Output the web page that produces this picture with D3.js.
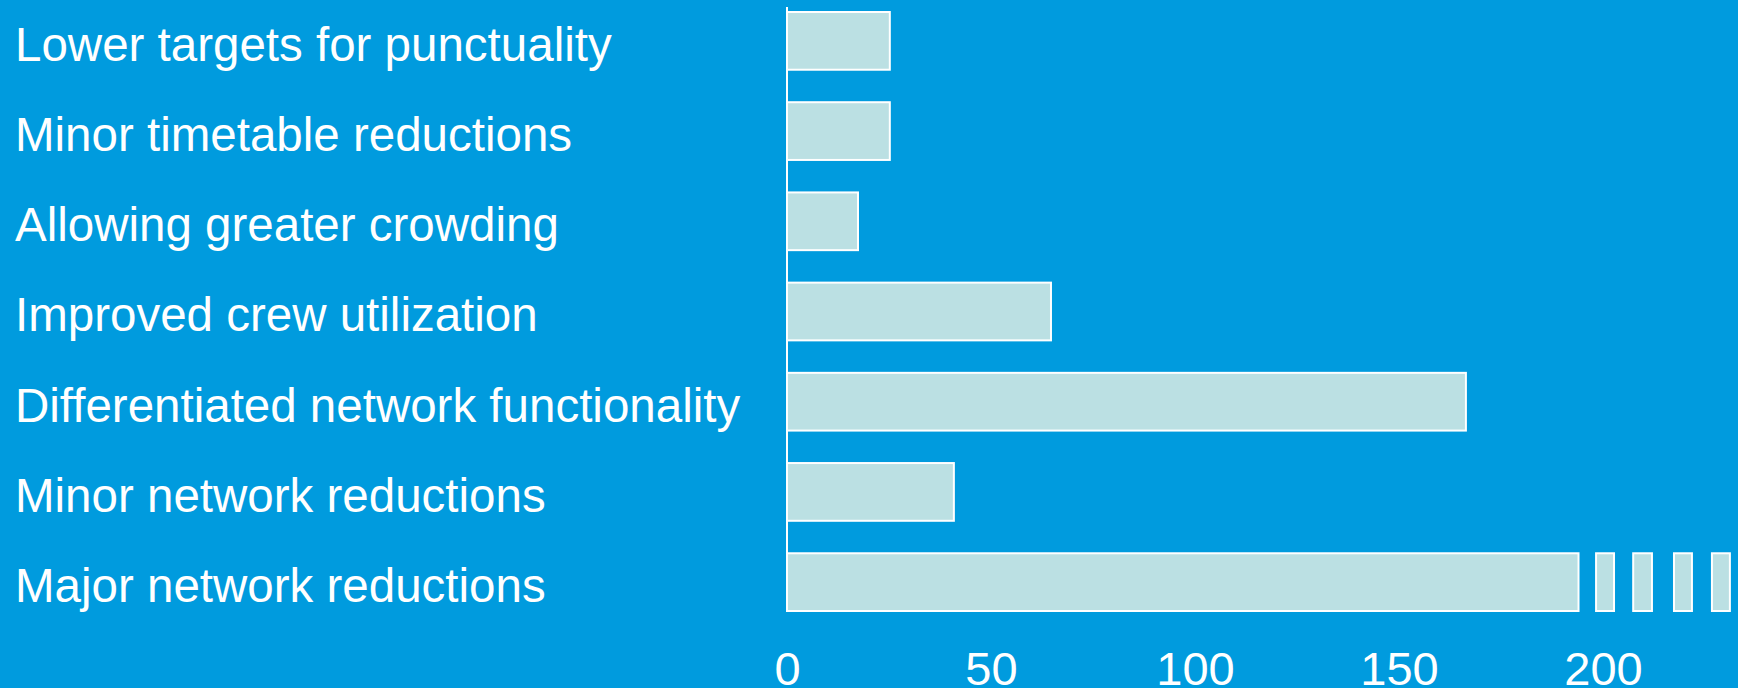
<!DOCTYPE html>
<html>
<head>
<meta charset="utf-8">
<script src="https://cdn.jsdelivr.net/npm/d3@7"></script>
<style>
  body { margin: 0; background: #009bde; }
  svg { display: block; }
  .label { fill: #fff; font-family: "Liberation Sans", Arial, sans-serif; font-size: 47.5px; }
  .tick text { fill: #fff; font-family: "Liberation Sans", Arial, sans-serif; font-size: 47px; }
</style>
</head>
<body>
<svg id="chart"></svg>
<script>
// categories, top to bottom
var categories = [
    "Lower targets for punctuality",
    "Minor timetable reductions",
    "Allowing greater crowding",
    "Improved crew utilization",
    "Differentiated network functionality",
    "Minor network reductions",
    "Major network reductions"
];
// bar lengths as drawn (last one is cut off and continues as a broken bar)
var values = [25.2, 25.2, 17.4, 64.7, 166.4, 40.9, 194];
// pieces of the broken bar after the cut, in axis units
var breakStarts = [198.3, 207.4, 217.4, 226.7];
var breakEnds = [202.7, 212, 221.8, 231.1];
var tickValues = [0, 50, 100, 150, 200];

var width = 1738, height = 688;
var svg = d3.select("#chart").attr("width", width).attr("height", height);

svg.append("rect")
    .attr("width", width)
    .attr("height", height)
    .attr("fill", "#009bde");

var x = d3.scaleLinear().domain([0, 200]).range([787, 1603]);
var y = d3.scaleBand().domain(categories).range([12, 611]).paddingInner(0.36).paddingOuter(0);

// bars
var bars = svg.append("g").attr("id", "bars");
for (var i in categories) {
    bars.append("rect")
        .attr("x", x(0))
        .attr("y", y(categories[i]))
        .attr("width", x(values[i]) - x(0))
        .attr("height", y.bandwidth())
        .attr("fill", "#bbe0e3")
        .attr("stroke", "#fff")
        .attr("stroke-width", 2);
}

// broken part of the last bar
var last = categories[categories.length - 1];
for (var j in breakStarts) {
    bars.append("rect")
        .attr("x", x(breakStarts[j]))
        .attr("y", y(last))
        .attr("width", x(breakEnds[j]) - x(breakStarts[j]))
        .attr("height", y.bandwidth())
        .attr("fill", "#bbe0e3")
        .attr("stroke", "#fff")
        .attr("stroke-width", 2);
}

// vertical axis line
svg.append("line")
    .attr("x1", x(0)).attr("x2", x(0))
    .attr("y1", 7).attr("y2", 612)
    .attr("stroke", "#fff")
    .attr("stroke-width", 2);

// category labels
svg.append("g").selectAll("text")
    .data(categories)
    .join("text")
    .attr("class", "label")
    .attr("x", 15)
    .attr("y", d => y(d) + y.bandwidth() / 2)
    .attr("dy", "0.42em")
    .text(d => d);

// bottom tick labels, sitting right at the bottom edge
var xAxis = svg.append("g")
    .attr("transform", "translate(0," + 685 + ")")
    .call(d3.axisBottom(x).tickValues(tickValues).tickSize(0).tickPadding(0));
xAxis.select(".domain").remove();
xAxis.selectAll("text").attr("y", 0).attr("dy", 0);
</script>
</body>
</html>
